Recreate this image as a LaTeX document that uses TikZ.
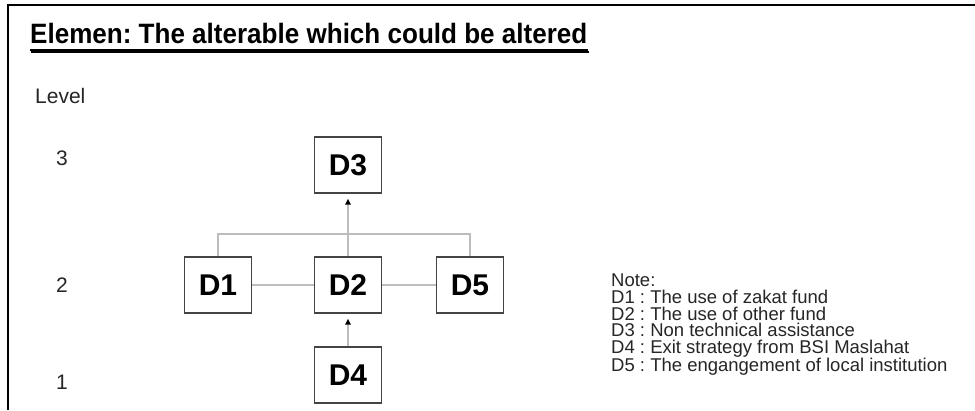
\documentclass[tikz,border=0pt]{standalone}
\usepackage{fontspec}
\setmainfont{Liberation Sans}
\usetikzlibrary{arrows.meta,calc}
\definecolor{boxline}{HTML}{444444}
\definecolor{link}{HTML}{BDBDBD}
\definecolor{shade}{HTML}{8A8A8A}
\frenchspacing
\begin{document}
\begin{tikzpicture}[x=1pt,y=-1pt,
  dbox/.style={draw=boxline,line width=1.4pt,fill=white,minimum width=67pt,minimum height=56pt,
    inner sep=0pt,font=\fontsize{30}{34}\selectfont\bfseries},
  link/.style={draw=link,line width=1.8pt},
  uparrow/.style={link,-{Triangle[color=black,length=6pt,width=5.5pt]},shorten >=5pt},
  lvl/.style={inner sep=0pt,font=\fontsize{21}{24}\selectfont,text=black!85},
  frame/.style={line width=2pt,black}]
\useasboundingbox (0,0) rectangle (975,410);
\fill[white] (0,0) rectangle (975,410);
% outer frame (open to the right and bottom)
\draw[frame] (8,410) -- (8,5) -- (975,5);

% heading with a shadowed underline
\node[anchor=base west,inner sep=0pt,font=\fontsize{28}{32}\selectfont\bfseries] (title) at (30,43)
  {\scalebox{0.93}[1]{Elemen: The alterable which could be altered}};
\draw[shade,line width=2pt] ($(title.base west)+(1,9)$) -- ($(title.base east)+(1,9)$);
\draw[black,line width=2pt] ($(title.base west)+(0,7)$) -- ($(title.base east)+(0,7)$);

% level axis
\node[lvl,anchor=base west] (level) at (35,103) {Level};
\node[lvl] (l3) at (62,158) {3};
\node[lvl] (l2) at (62,285) {2};
\node[lvl] (l1) at (62,382) {1};

% elements
\node[dbox] (d3) at (348,165) {D3};
\node[dbox] (d1) at (218,285) {D1};
\node[dbox] (d2) at (348,285) {D2};
\node[dbox] (d5) at (470,285) {D5};
\node[dbox] (d4) at (348,375) {D4};

% connectors
\coordinate (bar) at (0,234);
\draw[link] (d1.north) -- (d1.north |- bar) -- (d5.north |- bar) -- (d5.north);
\draw[link] (d1.east) -- (d2.west);
\draw[link] (d2.east) -- (d5.west);
\draw[uparrow] (d2.north) -- (d3.south);
\draw[uparrow] (d4.north) -- (d2.south);

% legend
\node[anchor=north west,inner sep=0pt,align=left,text=black!85,
  font=\fontsize{18.5}{16.6}\selectfont] (note) at (611,274)
  {Note:\\
   D1 : The use of zakat fund\\
   D2 : The use of other fund\\
   D3 : Non technical assistance\\
   D4 : Exit strategy from BSI Maslahat\\
   D5 : The engangement of local institution};
\end{tikzpicture}
\end{document}
